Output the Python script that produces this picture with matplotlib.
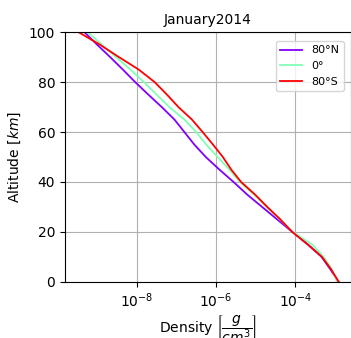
import matplotlib.pyplot as plt
import numpy as np

# altitud [km] y log10 de la densidad [g/cm^3]
altitud = [0, 5, 10, 15, 20, 25, 30, 35, 40, 45, 50, 55, 60, 65, 70, 75, 80, 85, 90, 95, 100]
log_rho_80N = [-2.91, -3.12, -3.34, -3.69, -4.08, -4.46, -4.84, -5.22, -5.56, -5.92, -6.26,
               -6.55, -6.80, -7.05, -7.37, -7.71, -8.04, -8.35, -8.67, -9.00, -9.32]
log_rho_0 = [-2.95, -3.08, -3.29, -3.58, -4.07, -4.39, -4.73, -5.05, -5.40, -5.67, -5.96,
             -6.25, -6.50, -6.80, -7.18, -7.50, -7.82, -8.16, -8.52, -8.88, -9.24]
log_rho_80S = [-2.91, -3.10, -3.33, -3.69, -4.08, -4.38, -4.71, -5.02, -5.37, -5.62, -5.83,
               -6.08, -6.34, -6.61, -6.95, -7.24, -7.55, -7.95, -8.45, -8.93, -9.47]
etiquetas = ['80°N', '0°', '80°S']

fig = plt.figure(figsize=(3.51, 3.38), dpi=100)
ax = fig.add_axes([0.185, 0.166, 0.815, 0.739])

colores = plt.cm.rainbow(np.linspace(0, 1, 3))
for serie, lab, c in zip([log_rho_80N, log_rho_0, log_rho_80S], etiquetas, colores):
    ax.plot(10 ** np.array(serie), altitud, color=c, lw=1.3, label=lab)

ax.set_xscale('log')
ax.set_xlim(10 ** -9.81, 10 ** -2.6)
ax.set_ylim(0, 100)
ax.set_yticks([0, 20, 40, 60, 80, 100])
ax.set_xticks([1e-8, 1e-6, 1e-4])
ax.minorticks_off()
ax.grid(True)
ax.set_title('January2014', fontsize=10)
ax.set_ylabel('Altitude [$km$]')
ax.set_xlabel(r'Density $\left[\dfrac{g}{cm^3}\right]$', labelpad=2)
ax.legend(loc='upper right', bbox_to_anchor=(0.995, 0.895), bbox_transform=fig.transFigure,
          fontsize=8)

fig.savefig('out.png', dpi=100)
